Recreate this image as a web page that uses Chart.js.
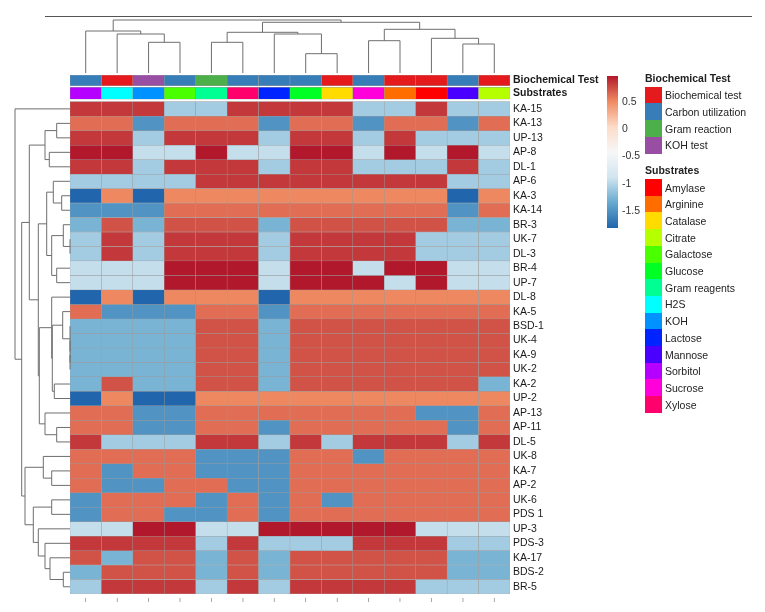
<!DOCTYPE html>
<html>
<head>
<meta charset="utf-8">
<script src="https://cdn.jsdelivr.net/npm/chart.js@4.4.1/dist/chart.umd.min.js"></script>
<style>
    body { margin: 0; background: #fff; font-family: "Liberation Sans", Arial, sans-serif; }
    #wrap { position: relative; width: 765px; height: 612px; }
    #heat { position: absolute; left: 0; top: 0; }
    #topRule { position: absolute; left: 45px; top: 16px; width: 707px; border-top: 1px solid #555; }
    #scaleBar { position: absolute; left: 607px; width: 11px; }
    .tick { position: absolute; left: 622px; font-size: 10.5px; line-height: 12px; color: #333; }
    .lgTitle { position: absolute; left: 645px; font-size: 10.5px; line-height: 12px; font-weight: bold; color: #222; }
    .lgBox { position: absolute; left: 645px; width: 17px; height: 17px; }
    .lgText { position: absolute; left: 665px; font-size: 10.5px; line-height: 12px; color: #222; }
</style>
</head>
<body>
<div id="wrap">
    <canvas id="heat" width="765" height="612"></canvas>
    <div id="topRule"></div>
    <div id="legend"></div>
</div>
<script>
const rowLabels = ['KA-15', 'KA-13', 'UP-13', 'AP-8', 'DL-1', 'AP-6', 'KA-3', 'KA-14', 'BR-3', 'UK-7',
    'DL-3', 'BR-4', 'UP-7', 'DL-8', 'KA-5', 'BSD-1', 'UK-4', 'KA-9', 'UK-2', 'KA-2', 'UP-2', 'AP-13',
    'AP-11', 'DL-5', 'UK-8', 'KA-7', 'AP-2', 'UK-6', 'PDS 1', 'UP-3', 'PDS-3', 'KA-17', 'BDS-2', 'BR-5'];

// one entry per heatmap column (left to right)
const colSubstrates = ['Sorbitol', 'H2S', 'KOH', 'Galactose', 'Gram reagents', 'Xylose', 'Lactose',
    'Glucose', 'Catalase', 'Sucrose', 'Arginine', 'Amylase', 'Mannose', 'Citrate'];
const colTests = ['Carbon utilization', 'Biochemical test', 'KOH test', 'Carbon utilization', 'Gram reaction',
    'Carbon utilization', 'Carbon utilization', 'Carbon utilization', 'Biochemical test', 'Carbon utilization',
    'Biochemical test', 'Biochemical test', 'Carbon utilization', 'Biochemical test'];

const testNames = ['Biochemical test', 'Carbon utilization', 'Gram reaction', 'KOH test'];
const testColors = ['#E41A1C', '#377EB8', '#4DAF4A', '#984EA3'];
const substrateNames = ['Amylase', 'Arginine', 'Catalase', 'Citrate', 'Galactose', 'Glucose', 'Gram reagents',
    'H2S', 'KOH', 'Lactose', 'Mannose', 'Sorbitol', 'Sucrose', 'Xylose'];
const substrateColors = ['#FF0000', '#FF6D00', '#FFDB00', '#B6FF00', '#49FF00', '#00FF24', '#00FF92',
    '#00FFFF', '#0092FF', '#0024FF', '#4900FF', '#B600FF', '#FF00DB', '#FF006D'];

// scaled values, one row per isolate
const values = [
    [0.83, 0.83, 0.83, -1.11, -1.11, 0.83, 0.83, 0.83, 0.83, -1.11, -1.11, 0.83, -1.11, -1.11],
    [0.61, 0.61, -1.52, 0.61, 0.61, 0.61, -1.52, 0.61, 0.61, -1.52, 0.61, 0.61, -1.52, 0.61],
    [0.83, 0.83, -1.11, 0.83, 0.83, 0.83, -1.11, 0.83, 0.83, -1.11, 0.83, -1.11, -1.11, -1.11],
    [0.96, 0.96, -0.96, -0.96, 0.96, -0.96, -0.96, 0.96, 0.96, -0.96, 0.96, -0.96, 0.96, -0.96],
    [0.83, 0.83, -1.11, 0.83, 0.83, 0.83, -1.11, 0.83, 0.83, -1.11, -1.11, -1.11, 0.83, -1.11],
    [-1.11, -1.11, -1.11, -1.11, 0.83, 0.83, 0.83, 0.83, 0.83, 0.83, 0.83, 0.83, -1.11, -1.11],
    [-1.84, 0.50, -1.84, 0.50, 0.50, 0.50, 0.50, 0.50, 0.50, 0.50, 0.50, 0.50, -1.84, 0.50],
    [-1.52, -1.52, -1.52, 0.61, 0.61, 0.61, 0.61, 0.61, 0.61, 0.61, 0.61, 0.61, -1.52, 0.61],
    [-1.29, 0.72, -1.29, 0.72, 0.72, 0.72, -1.29, 0.72, 0.72, 0.72, 0.72, 0.72, -1.29, -1.29],
    [-1.11, 0.83, -1.11, 0.83, 0.83, 0.83, -1.11, 0.83, 0.83, 0.83, 0.83, -1.11, -1.11, -1.11],
    [-1.11, 0.83, -1.11, 0.83, 0.83, 0.83, -1.11, 0.83, 0.83, 0.83, 0.83, -1.11, -1.11, -1.11],
    [-0.96, -0.96, -0.96, 0.96, 0.96, 0.96, -0.96, 0.96, 0.96, -0.96, 0.96, 0.96, -0.96, -0.96],
    [-0.96, -0.96, -0.96, 0.96, 0.96, 0.96, -0.96, 0.96, 0.96, 0.96, -0.96, 0.96, -0.96, -0.96],
    [-1.84, 0.50, -1.84, 0.50, 0.50, 0.50, -1.84, 0.50, 0.50, 0.50, 0.50, 0.50, 0.50, 0.50],
    [0.61, -1.52, -1.52, -1.52, 0.61, 0.61, -1.52, 0.61, 0.61, 0.61, 0.61, 0.61, 0.61, 0.61],
    [-1.29, -1.29, -1.29, -1.29, 0.72, 0.72, -1.29, 0.72, 0.72, 0.72, 0.72, 0.72, 0.72, 0.72],
    [-1.29, -1.29, -1.29, -1.29, 0.72, 0.72, -1.29, 0.72, 0.72, 0.72, 0.72, 0.72, 0.72, 0.72],
    [-1.29, -1.29, -1.29, -1.29, 0.72, 0.72, -1.29, 0.72, 0.72, 0.72, 0.72, 0.72, 0.72, 0.72],
    [-1.29, -1.29, -1.29, -1.29, 0.72, 0.72, -1.29, 0.72, 0.72, 0.72, 0.72, 0.72, 0.72, 0.72],
    [-1.29, 0.72, -1.29, -1.29, 0.72, 0.72, -1.29, 0.72, 0.72, 0.72, 0.72, 0.72, 0.72, -1.29],
    [-1.84, 0.50, -1.84, -1.84, 0.50, 0.50, 0.50, 0.50, 0.50, 0.50, 0.50, 0.50, 0.50, 0.50],
    [0.61, 0.61, -1.52, -1.52, 0.61, 0.61, 0.61, 0.61, 0.61, 0.61, 0.61, -1.52, -1.52, 0.61],
    [0.61, 0.61, -1.52, -1.52, 0.61, 0.61, -1.52, 0.61, 0.61, 0.61, 0.61, 0.61, -1.52, 0.61],
    [0.83, -1.11, -1.11, -1.11, 0.83, 0.83, -1.11, 0.83, -1.11, 0.83, 0.83, 0.83, -1.11, 0.83],
    [0.61, 0.61, 0.61, 0.61, -1.52, -1.52, -1.52, 0.61, 0.61, -1.52, 0.61, 0.61, 0.61, 0.61],
    [0.61, -1.52, 0.61, 0.61, -1.52, -1.52, -1.52, 0.61, 0.61, 0.61, 0.61, 0.61, 0.61, 0.61],
    [0.61, -1.52, -1.52, 0.61, 0.61, -1.52, -1.52, 0.61, 0.61, 0.61, 0.61, 0.61, 0.61, 0.61],
    [-1.52, 0.61, 0.61, 0.61, -1.52, 0.61, -1.52, 0.61, -1.52, 0.61, 0.61, 0.61, 0.61, 0.61],
    [-1.52, 0.61, 0.61, -1.52, -1.52, 0.61, -1.52, 0.61, 0.61, 0.61, 0.61, 0.61, 0.61, 0.61],
    [-0.96, -0.96, 0.96, 0.96, -0.96, -0.96, 0.96, 0.96, 0.96, 0.96, 0.96, -0.96, -0.96, -0.96],
    [0.83, 0.83, 0.83, 0.83, -1.11, 0.83, -1.11, -1.11, -1.11, 0.83, 0.83, 0.83, -1.11, -1.11],
    [0.72, -1.29, 0.72, 0.72, -1.29, 0.72, -1.29, 0.72, 0.72, 0.72, 0.72, 0.72, -1.29, -1.29],
    [-1.29, 0.72, 0.72, 0.72, -1.29, 0.72, -1.29, 0.72, 0.72, 0.72, 0.72, 0.72, -1.29, -1.29],
    [-1.11, 0.83, 0.83, 0.83, -1.11, 0.83, -1.11, 0.83, 0.83, 0.83, 0.83, -1.11, -1.11, -1.11]
];

// dendrograms: [left, right, mergeHeight], numbers are leaf indices
const rowTree = [0, [
    [[[1, 2, 13.3], [3, 4, 20.7], 25],
     [[[5, [6, 7, 8.3], 16.7], [[8, [9, 10, 0], 6.7], [11, 12, 13.3], 18.3], 23.3],
      [[13, [[14, [15, [16, [17, 18, 0], 0], 0], 7.3], [19, 20, 15.7], 17.7], 18.3],
       [21, [22, 23, 13.3], 25], 30.7], 31.7], 40.7],
    [[24, [25, 26, 18.3], 26.7],
     [[27, 28, 18.3], [29, [30, [31, [32, 33, 6.7], 20], 25], 31.7], 36.7], 45], 48.3], 55];

const colTree = [[0, [1, [2, 3, 30.7], 39], 42],
    [[[4, 5, 30.7], [6, [7, 8, 19.3], 39], 40.7],
     [[9, 10, 32.3], [11, [12, 13, 29], 34.7], 43.7], 50.7], 53];

const palette = ['#2166AC', '#67A9CF', '#D1E5F0', '#F7F7F7', '#FDDBC7', '#EF8A62', '#B2182B'];
const scaleTicks = [0.5, 0, -0.5, -1, -1.5];

const all = values.flat();
const vmin = Math.min(...all);
const vmax = Math.max(...all);

function hexRgb(h) {
    return [1, 3, 5].map(i => parseInt(h.slice(i, i + 2), 16));
}

function colorFor(v) {
    const t = Math.min(Math.max((v - vmin) / (vmax - vmin), 0), 1) * (palette.length - 1);
    const i = Math.min(Math.floor(t), palette.length - 2);
    const f = t - i;
    const a = hexRgb(palette[i]), b = hexRgb(palette[i + 1]);
    const c = a.map((x, k) => Math.round(x + (b[k] - x) * f));
    return `rgb(${c[0]},${c[1]},${c[2]})`;
}

const testBand = [-1.84, -1.10];
const subBand = [-0.99, -0.17];
const yTicks = [(testBand[0] + testBand[1]) / 2, (subBand[0] + subBand[1]) / 2]
    .concat(rowLabels.map((_, i) => i + 0.5));
const yTickText = ['Biochemical Test', 'Substrates'].concat(rowLabels);

const cellStyle = {
    type: 'bar',
    grouped: false,
    barPercentage: 1,
    categoryPercentage: 1,
    borderColor: '#9a9a9a',
    borderWidth: 0.5,
    borderSkipped: false
};

const datasets = values.map((row, r) => ({
    ...cellStyle,
    label: rowLabels[r],
    data: row.map(() => [r, r + 1]),
    backgroundColor: row.map(colorFor)
}));
datasets.push({
    ...cellStyle,
    label: 'Biochemical Test',
    data: colTests.map(() => testBand),
    backgroundColor: colTests.map(t => testColors[testNames.indexOf(t)])
});
datasets.push({
    ...cellStyle,
    label: 'Substrates',
    data: colSubstrates.map(() => subBand),
    backgroundColor: colSubstrates.map(s => substrateColors[substrateNames.indexOf(s)])
});

function drawTree(node, leafPos, hPix, seg) {
    if (typeof node === 'number') return { p: leafPos(node), b: hPix(0) };
    const L = drawTree(node[0], leafPos, hPix, seg);
    const R = drawTree(node[1], leafPos, hPix, seg);
    const b = hPix(node[2]);
    seg(L.p, L.b, L.p, b);
    seg(R.p, R.b, R.p, b);
    seg(L.p, b, R.p, b);
    return { p: (L.p + R.p) / 2, b };
}

const dendroPlugin = {
    id: 'dendro',
    afterDraw(chart) {
        const { ctx, chartArea, scales } = chart;
        ctx.save();
        ctx.strokeStyle = '#6e6e6e';
        ctx.lineWidth = 1;
        ctx.beginPath();
        // columns: leaves sit just above the annotation bars
        const colBase = chartArea.top - 2;
        drawTree(colTree, i => scales.x.getPixelForValue(i),
            h => colBase - h / colTree[2] * (colBase - 20),
            (a1, b1, a2, b2) => { ctx.moveTo(a1, b1); ctx.lineTo(a2, b2); });
        // rows: leaves sit on the left edge of the heatmap
        const rowBase = chartArea.left;
        drawTree(rowTree, i => scales.y.getPixelForValue(i + 0.5),
            h => rowBase - h / rowTree[2] * (rowBase - 15),
            (a1, b1, a2, b2) => { ctx.moveTo(b1, a1); ctx.lineTo(b2, a2); });
        ctx.stroke();
        ctx.restore();
    }
};

new Chart(document.getElementById('heat'), {
    data: { labels: colSubstrates, datasets },
    options: {
        responsive: false,
        animation: false,
        events: [],
        layout: { padding: { left: 70, top: 75, right: 135, bottom: 0 } },
        plugins: { legend: { display: false }, tooltip: { enabled: false } },
        scales: {
            x: {
                type: 'category',
                grid: { display: false, drawTicks: false },
                border: { display: false },
                afterFit: s => { s.height = 18; },
                ticks: {
                    padding: 2,
                    maxRotation: 0,
                    autoSkip: false,
                    color: '#777',
                    font: { size: 7, family: 'Liberation Sans' },
                    callback: () => 'ı'
                }
            },
            y: {
                type: 'linear',
                reverse: true,
                min: testBand[0],
                max: rowLabels.length,
                position: 'right',
                grid: { display: false, drawTicks: false },
                border: { display: false },
                afterFit: s => { s.width = 120; },
                afterBuildTicks: s => { s.ticks = yTicks.map(v => ({ value: v })); },
                ticks: {
                    autoSkip: false,
                    padding: 3,
                    color: '#1a1a1a',
                    font: c => ({ size: 10.5, family: 'Liberation Sans', weight: c.index < 2 ? 'bold' : 'normal' }),
                    callback: (v, i) => yTickText[i]
                }
            }
        }
    },
    plugins: [dendroPlugin]
});

// colour key and annotation legend
const legend = document.getElementById('legend');
const pxPerUnit = 54.6;
const barTop = 100.7 - (vmax - 0.5) * pxPerUnit;
const bar = document.createElement('div');
bar.id = 'scaleBar';
bar.style.top = barTop + 'px';
bar.style.height = (vmax - vmin) * pxPerUnit + 'px';
bar.style.background = 'linear-gradient(to top, ' + palette.join(', ') + ')';
legend.appendChild(bar);
scaleTicks.forEach(v => {
    const d = document.createElement('div');
    d.className = 'tick';
    d.style.top = (barTop + (vmax - v) * pxPerUnit - 6) + 'px';
    d.textContent = String(v);
    legend.appendChild(d);
});

function addGroup(title, names, colors, titleY, boxTop) {
    const t = document.createElement('div');
    t.className = 'lgTitle';
    t.style.top = (titleY - 6) + 'px';
    t.textContent = title;
    legend.appendChild(t);
    names.forEach((n, i) => {
        const y = boxTop + i * 16.7;
        const b = document.createElement('div');
        b.className = 'lgBox';
        b.style.top = y + 'px';
        b.style.background = colors[i];
        legend.appendChild(b);
        const l = document.createElement('div');
        l.className = 'lgText';
        l.style.top = (y + 2.5) + 'px';
        l.textContent = n;
        legend.appendChild(l);
    });
}
addGroup('Biochemical Test', testNames, testColors, 78.3, 86.7);
addGroup('Substrates', substrateNames, substrateColors, 170.3, 179);
</script>
</body>
</html>
